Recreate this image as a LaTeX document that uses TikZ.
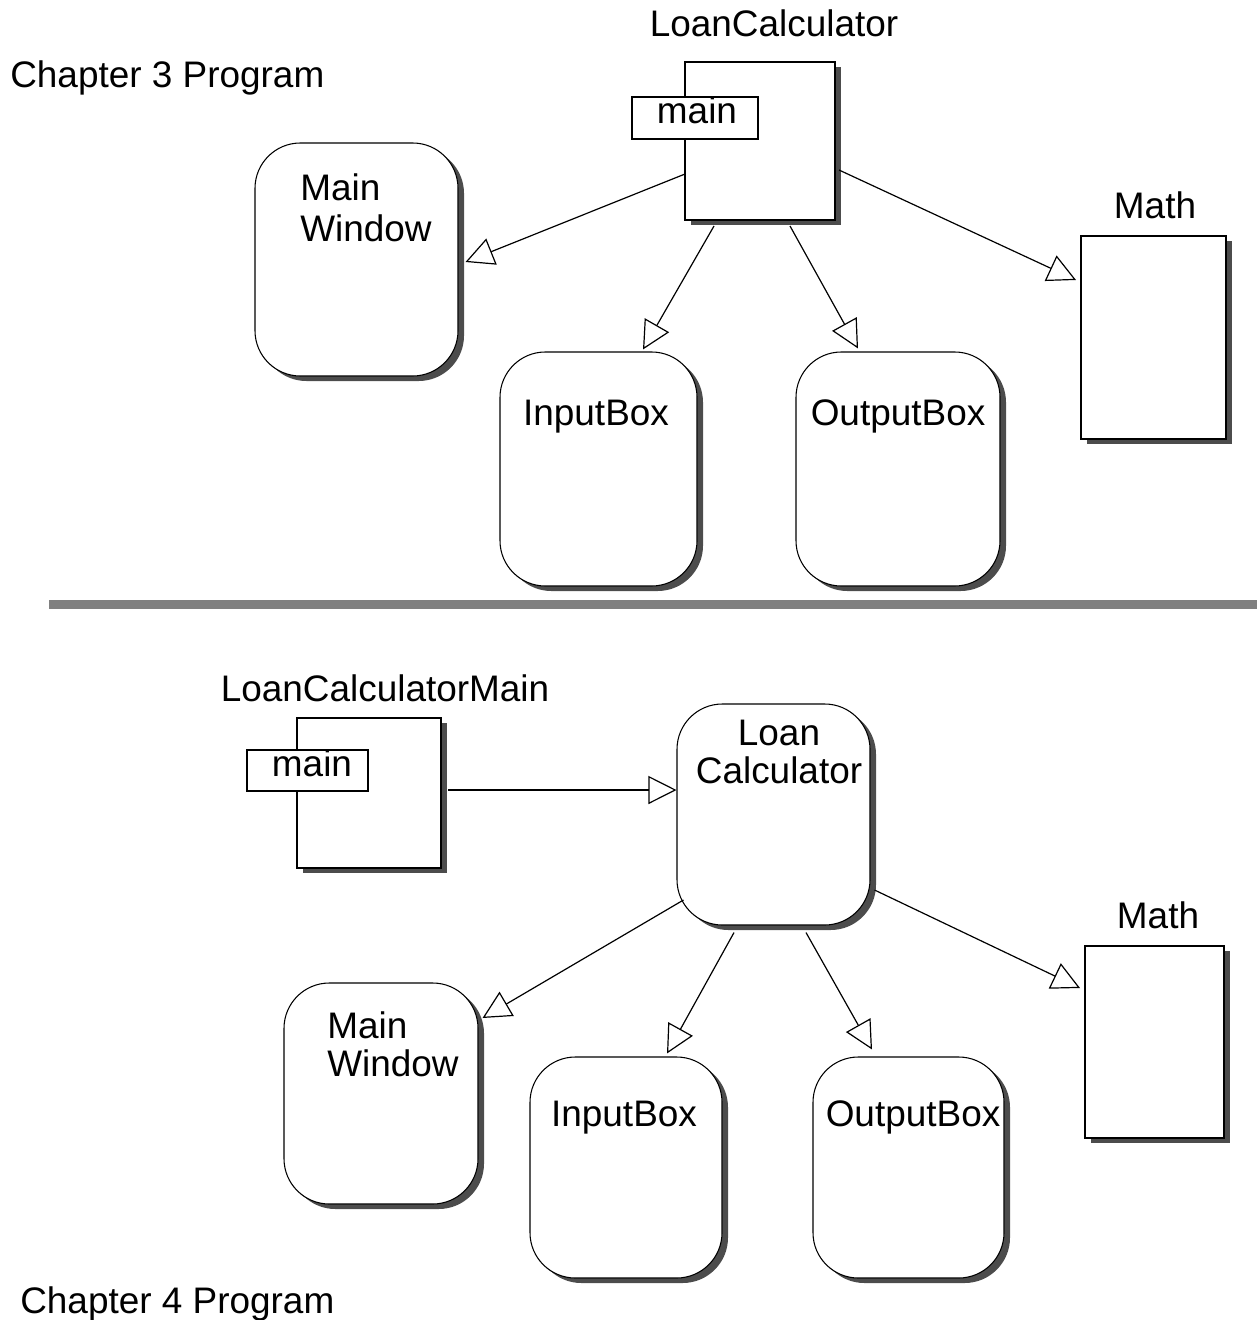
\documentclass[tikz,border=0pt]{standalone}
\usepackage{fontspec}
\setmainfont{Liberation Sans}
\usepackage{tikz}
\usetikzlibrary{calc,positioning,arrows.meta,shadows}

\tikzset{
  boxshadow/.style={drop shadow={shadow xshift=4.5pt,shadow yshift=-3.75pt,fill=black!70,opacity=1}},
  classbox/.style={rectangle,draw=black,line width=1.5pt,fill=white,boxshadow},
  objbox/.style={rectangle,rounded corners=34pt,draw=black,line width=0.8pt,fill=white,boxshadow},
  methodtab/.style={rectangle,draw=black,line width=1pt,fill=white},
  usesarrow/.style={line width=0.9pt,-{Triangle[open,length=21pt,width=21pt]}},
  txt/.style={inner sep=0pt}
}

\begin{document}
\begin{tikzpicture}[x=0.75pt,y=-0.75pt,every node/.style={font=\fontsize{27.7}{30.75}\selectfont}]

  \useasboundingbox (0,0) rectangle (1257,1320);

  %% chapter 3
  \node (title_3) [txt,anchor=base west] at(10,88) {Chapter 3 Program};

  \node (lc_3) [classbox,minimum width=112.5pt,minimum height=118.5pt] at(760,141) {};
  \node (lcname_3) [txt,anchor=base] at(774,37) {LoanCalculator};
  \node (main_3) [methodtab,minimum width=94.5pt,minimum height=31.5pt] at(695,118) {};
  \node (maintxt_3) [txt,anchor=base] at(697,123) {main};

  \node (mw_3) [objbox,minimum width=152.25pt,minimum height=174.75pt] at(356.5,259.5) {};
  \node (mwtxt_3) [txt,anchor=north west,align=left] at(300,173.5) {Main\\Window};
  \node (ib_3) [objbox,minimum width=147.75pt,minimum height=175.5pt] at(598.5,469) {};
  \node (ibtxt_3) [txt,anchor=base] at(596,425) {InputBox};
  \node (ob_3) [objbox,minimum width=153pt,minimum height=175.5pt] at(898,469) {};
  \node (obtxt_3) [txt,anchor=base] at(898,425) {OutputBox};
  \node (math_3) [classbox,minimum width=108.75pt,minimum height=152.25pt] at(1153.5,337.5) {};
  \node (mathtxt_3) [txt,anchor=base] at(1155,218) {Math};

  \draw [usesarrow] ($(lc_3.west)+(1,33)$) -- ($(mw_3.east)+(7,2.5)$);
  \draw [usesarrow] ($(lc_3.south)+(-46,5)$) -- ($(ib_3.north)+(44.5,-2)$);
  \draw [usesarrow] ($(lc_3.south)+(30,5)$) -- ($(ob_3.north)+(-40,-3)$);
  \draw [usesarrow] ($(lc_3.east)+(3,29)$) -- ($(math_3.west)+(-4,-57.5)$);

  \node (divider) [rectangle,fill=black!50,inner sep=0pt,minimum width=906pt,minimum height=6.75pt,anchor=north west] at(49,600) {};

  %% chapter 4
  \node (title_4) [txt,anchor=base west] at(20,1313) {Chapter 4 Program};

  \node (lcm_4) [classbox,minimum width=108pt,minimum height=112.5pt] at(369,793) {};
  \node (lcmname_4) [txt,anchor=base] at(385,701) {LoanCalculatorMain};
  \node (main_4) [methodtab,minimum width=90.75pt,minimum height=30.75pt] at(307.5,770.5) {};
  \node (maintxt_4) [txt,anchor=base] at(312,776) {main};

  \node (lc_4) [objbox,minimum width=144.75pt,minimum height=165.75pt] at(773.5,814.5) {};
  \node (lctxt_4) [txt,anchor=north,align=center,font=\fontsize{27.7}{28.5}\selectfont] at(779,719.5) {Loan\\Calculator};
  \node (mw_4) [objbox,minimum width=145.5pt,minimum height=165.75pt] at(381,1093.5) {};
  \node (mwtxt_4) [txt,anchor=north west,align=left,font=\fontsize{27.7}{28.5}\selectfont] at(327,1011.5) {Main\\Window};
  \node (ib_4) [objbox,minimum width=144pt,minimum height=165.75pt] at(626,1167.5) {};
  \node (ibtxt_4) [txt,anchor=base] at(624,1126) {InputBox};
  \node (ob_4) [objbox,minimum width=143.25pt,minimum height=165.75pt] at(908.5,1167.5) {};
  \node (obtxt_4) [txt,anchor=base] at(913,1126) {OutputBox};
  \node (math_4) [classbox,minimum width=104.25pt,minimum height=144pt] at(1154.5,1042) {};
  \node (mathtxt_4) [txt,anchor=base] at(1158,928) {Math};

  \draw [usesarrow] ($(lcm_4.east)+(6,-3)$) -- ($(lc_4.west)+(0,-24.5)$);
  \draw [usesarrow] ($(lc_4.west)+(7,85.5)$) -- ($(mw_4.east)+(4,-75.5)$);
  \draw [usesarrow] ($(lc_4.south)+(-39.5,7)$) -- ($(ib_4.north)+(41,-3)$);
  \draw [usesarrow] ($(lc_4.south)+(32.5,7)$) -- ($(ob_4.north)+(-36.5,-7)$);
  \draw [usesarrow] ($(lc_4.east)+(4,75.5)$) -- ($(math_4.west)+(-4,-54)$);

\end{tikzpicture}
\end{document}
